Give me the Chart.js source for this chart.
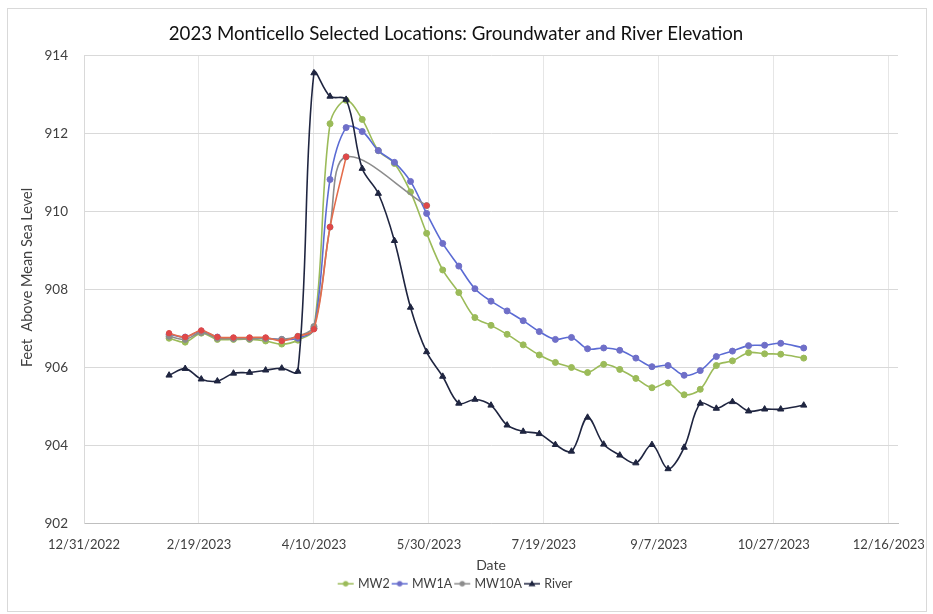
<!DOCTYPE html>
<html>
<head>
<meta charset="utf-8">
<script src="https://cdn.jsdelivr.net/npm/chart.js@4.4.1/dist/chart.umd.min.js"></script>
<style>
  html, body { margin: 0; padding: 0; background: #ffffff; }
  #wrap { position: relative; width: 933px; height: 614px; }
</style>
</head>
<body>
<div id="wrap"><canvas id="chart" width="933" height="614"></canvas></div>
<script>
// Sampling dates (weekly readings, 2023)
const dates = [
  '2/6/2023', '2/13/2023', '2/20/2023', '2/27/2023', '3/6/2023', '3/13/2023', '3/20/2023', '3/27/2023',
  '4/3/2023', '4/10/2023', '4/17/2023', '4/24/2023', '5/1/2023', '5/8/2023', '5/15/2023', '5/22/2023',
  '5/29/2023', '6/5/2023', '6/12/2023', '6/19/2023', '6/26/2023', '7/3/2023', '7/10/2023', '7/17/2023',
  '7/24/2023', '7/31/2023', '8/7/2023', '8/14/2023', '8/21/2023', '8/28/2023', '9/4/2023', '9/11/2023',
  '9/18/2023', '9/25/2023', '10/2/2023', '10/9/2023', '10/16/2023', '10/23/2023', '10/30/2023', '11/9/2023'
];

// Elevations, feet above mean sea level
const mw2 = [
  906.75, 906.65, 906.88, 906.72, 906.72, 906.72, 906.68, 906.60,
  906.70, 907.00, 912.25, 912.85, 912.36, 911.56, 911.23, 910.50,
  909.44, 908.50, 907.92, 907.28, 907.08, 906.85, 906.58, 906.32,
  906.13, 906.00, 905.87, 906.08, 905.95, 905.72, 905.48, 905.60,
  905.30, 905.44, 906.05, 906.17, 906.38, 906.35, 906.34, 906.24
];
const mw1a = [
  906.85, 906.78, 906.93, 906.78, 906.75, 906.75, 906.75, 906.72,
  906.75, 907.00, 910.82, 912.15, 912.05, 911.56, 911.26, 910.77,
  909.95, 909.18, 908.60, 908.02, 907.70, 907.45, 907.20, 906.92,
  906.72, 906.77, 906.48, 906.50, 906.44, 906.24, 906.02, 906.05,
  905.80, 905.92, 906.28, 906.42, 906.56, 906.57, 906.62, 906.50
];
const mw10a = [
  906.80, 906.72, 906.90, 906.75, 906.74, 906.74, 906.74, 906.72,
  906.80, 907.05, 909.60, 911.40, null, null, null, null,
  910.15, null, null, null, null, null, null, null,
  null, null, null, null, null, null, null, null,
  null, null, null, null, null, null, null, null
];
const mw10aCheck = [
  906.88, 906.78, 906.95, 906.78, 906.77, 906.77, 906.77, 906.68,
  906.80, 906.98, 909.60, 911.40, null, null, null, null,
  910.15, null, null, null, null, null, null, null,
  null, null, null, null, null, null, null, null,
  null, null, null, null, null, null, null, null
];
const river = [
  905.80, 905.97, 905.70, 905.65, 905.85, 905.87, 905.93, 905.98,
  905.90, 913.55, 912.95, 912.87, 911.10, 910.46, 909.25, 907.54,
  906.40, 905.77, 905.08, 905.18, 905.03, 904.52, 904.36, 904.30,
  904.02, 903.85, 904.72, 904.03, 903.75, 903.55, 904.02, 903.40,
  903.95, 905.08, 904.95, 905.12, 904.88, 904.93, 904.93, 905.03
];

// Axis settings
const xStartDate = '12/31/2022';
const xStepDays = 50;
const xEndDays = 354;
const yMin = 902, yMax = 914, yStep = 2;
const yTitle = 'Feet  Above Mean Sea Level';

const DAY = 86400000;
function toUTC(s) {
  const [m, d, y] = s.split('/').map(Number);
  return Date.UTC(y, m - 1, d);
}
const origin = toUTC(xStartDate);
const dayOf = s => (toUTC(s) - origin) / DAY;
function fmtDay(v) {
  const dt = new Date(origin + v * DAY);
  return (dt.getUTCMonth() + 1) + '/' + dt.getUTCDate() + '/' + dt.getUTCFullYear();
}
const pts = vals => dates.map((s, i) => ({ x: dayOf(s), y: vals[i] }));

const FONT = 'Lato, "Open Sans", "DejaVu Sans", sans-serif';

// Legend symbol: short line with the series marker in the middle
function legendSymbol(color, markerColor, style) {
  const c = document.createElement('canvas');
  c.width = 20; c.height = 10;
  const g = c.getContext('2d');
  g.strokeStyle = color; g.lineWidth = 1.5;
  g.beginPath(); g.moveTo(2, 5); g.lineTo(18, 5); g.stroke();
  g.fillStyle = markerColor;
  g.beginPath();
  if (style === 'triangle') {
    g.moveTo(10, 1.5); g.lineTo(13.5, 7.5); g.lineTo(6.5, 7.5); g.closePath();
  } else {
    g.arc(10, 5, 2.7, 0, Math.PI * 2);
  }
  g.fill();
  return c;
}

// White background, outer frame and the rotated value-axis title
const frame = {
  id: 'frame',
  beforeDraw(chart) {
    const ctx = chart.ctx;
    ctx.save();
    ctx.fillStyle = '#ffffff';
    ctx.fillRect(0, 0, chart.width, chart.height);
    ctx.strokeStyle = '#d9d9d9';
    ctx.lineWidth = 1;
    ctx.strokeRect(7.5, 8.5, 919, 603);
    ctx.restore();
  },
  afterDraw(chart) {
    const ctx = chart.ctx;
    const area = chart.chartArea;
    ctx.save();
    ctx.translate(27, (area.top + area.bottom) / 2 - 12);
    ctx.rotate(-Math.PI / 2);
    ctx.fillStyle = '#404040';
    ctx.font = '14.5px ' + FONT;
    ctx.textAlign = 'center';
    ctx.textBaseline = 'middle';
    ctx.fillText(yTitle, 0, 0);
    ctx.restore();
  }
};

const series = [
  { label: 'MW2', data: pts(mw2), borderColor: '#9bbb59', pointBackgroundColor: '#9bbb59', pointBorderColor: '#9bbb59', pointStyle: 'circle', order: 4 },
  { label: 'MW1A', data: pts(mw1a), borderColor: '#5b6bd4', pointBackgroundColor: '#6f6fc8', pointBorderColor: '#6f6fc8', pointStyle: 'circle', order: 3 },
  { label: 'MW10A', data: pts(mw10a), borderColor: '#8c8c8c', pointBackgroundColor: '#8c8c8c', pointBorderColor: '#8c8c8c', pointStyle: 'circle', order: 2, spanGaps: true },
  { label: 'River', data: pts(river), borderColor: '#1f2540', pointBackgroundColor: '#1f2540', pointBorderColor: '#1f2540', pointStyle: 'triangle', order: 0, pointRadius: 3.6 },
  { label: 'MW10A check', data: pts(mw10aCheck), borderColor: '#e46c4b', pointBackgroundColor: '#e04848', pointBorderColor: '#e04848', pointStyle: 'circle', order: 1, spanGaps: false, pointRadius: 2.7 }
];

new Chart(document.getElementById('chart'), {
  type: 'line',
  data: {
    datasets: series.map(s => Object.assign({
      borderWidth: 1.6,
      pointRadius: 3,
      pointBorderWidth: 1,
      tension: 0.35,
      fill: false
    }, s))
  },
  plugins: [frame],
  options: {
    responsive: false,
    devicePixelRatio: 1,
    animation: false,
    layout: { padding: { left: 14, right: 35, top: 0, bottom: 14 } },
    plugins: {
      tooltip: { enabled: false },
      title: {
        display: true,
        text: '2023 Monticello Selected Locations: Groundwater and River Elevation',
        color: '#111111',
        font: { family: FONT, size: 18.7, weight: 'normal' },
        padding: { top: 23, bottom: 10 }
      },
      legend: {
        position: 'bottom',
        labels: {
          color: '#404040',
          font: { family: FONT, size: 12.5 },
          usePointStyle: true,
          pointStyleWidth: 12,
          boxHeight: 10,
          padding: 4,
          filter: item => item.text !== 'MW10A check',
          sort: (a, b) => a.datasetIndex - b.datasetIndex,
          generateLabels(chart) {
            const items = Chart.defaults.plugins.legend.labels.generateLabels(chart);
            return items.map(it => {
              const ds = chart.data.datasets[it.datasetIndex];
              it.pointStyle = legendSymbol(ds.borderColor, ds.pointBackgroundColor, ds.pointStyle);
              return it;
            });
          }
        }
      }
    },
    scales: {
      x: {
        type: 'linear',
        min: 0,
        max: xEndDays,
        afterFit(scale) { scale.height = 50; },
        ticks: {
          stepSize: xStepDays,
          includeBounds: false,
          maxRotation: 0,
          autoSkip: false,
          padding: 2,
          color: '#404040',
          font: { family: FONT, size: 13 },
          callback: v => fmtDay(v)
        },
        grid: { color: '#e6e6e6', drawTicks: true, tickLength: 12, tickColor: 'rgba(0,0,0,0)' },
        border: { color: '#bfbfbf' },
        title: {
          display: true, text: 'Date', color: '#404040',
          font: { family: FONT, size: 14 },
          padding: { top: 4, bottom: 0 }
        }
      },
      y: {
        min: yMin,
        max: yMax,
        afterFit(scale) { scale.width = 70; },
        ticks: {
          stepSize: yStep,
          padding: 16,
          color: '#404040',
          font: { family: FONT, size: 13.5 }
        },
        grid: { color: '#d9d9d9', drawTicks: false },
        border: { color: '#d9d9d9' }
      }
    }
  }
});
</script>
</body>
</html>
